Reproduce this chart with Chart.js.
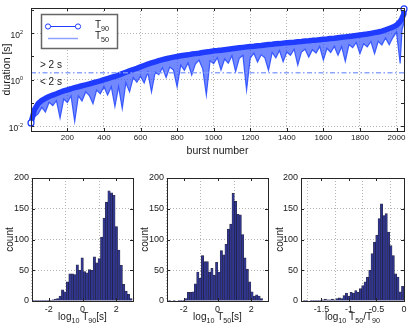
<!DOCTYPE html>
<html>
<head>
<meta charset="utf-8">
<script src="https://cdn.jsdelivr.net/npm/chart.js@4.4.1/dist/chart.umd.min.js"></script>
<style>
  html, body { margin: 0; padding: 0; background: #fff; }
  #wrap { position: relative; width: 412px; height: 330px; overflow: hidden; }
  canvas { position: absolute; }
</style>
</head>
<body>
<div id="wrap">
  <canvas id="top" width="412" height="165" style="left:0;top:0;width:412px;height:165px"></canvas>
  <canvas id="h90" width="140" height="165" style="left:0;top:165px;width:140px;height:165px"></canvas>
  <canvas id="h50" width="140" height="165" style="left:135px;top:165px;width:140px;height:165px"></canvas>
  <canvas id="hratio" width="142" height="165" style="left:270px;top:165px;width:142px;height:165px"></canvas>
</div>
<script>
// ---- top panel: bursts sorted by T90 (sampled every 20 bursts) ----
const burst = [1, 20, 40, 60, 80, 100, 120, 140, 160, 180,
  200, 220, 240, 260, 280, 300, 320, 340, 360, 380,
  400, 420, 440, 460, 480, 500, 520, 540, 560, 580,
  600, 620, 640, 660, 680, 700, 720, 740, 760, 780,
  800, 820, 840, 860, 880, 900, 920, 940, 960, 980,
  1000, 1020, 1040, 1060, 1080, 1100, 1120, 1140, 1160, 1180,
  1200, 1220, 1240, 1260, 1280, 1300, 1320, 1340, 1360, 1380,
  1400, 1420, 1440, 1460, 1480, 1500, 1520, 1540, 1560, 1580,
  1600, 1620, 1640, 1660, 1680, 1700, 1720, 1740, 1760, 1780,
  1800, 1820, 1840, 1860, 1880, 1900, 1920, 1940, 1960, 1980,
  2000, 2020, 2030, 2040, 2041];
const t90 = [0.014, 0.052, 0.095, 0.13, 0.16, 0.19, 0.22, 0.25, 0.29, 0.33,
  0.37, 0.41, 0.46, 0.50, 0.55, 0.60, 0.66, 0.74, 0.81, 0.89,
  1.0, 1.12, 1.26, 1.41, 1.58, 1.82, 2.09, 2.40, 2.75, 3.09,
  3.55, 4.07, 4.68, 5.25, 5.89, 6.61, 7.24, 7.94, 8.71, 9.33,
  10.0, 10.7, 11.2, 11.7, 12.6, 13.2, 13.8, 14.8, 15.5, 16.2,
  17.4, 17.8, 18.6, 19.5, 20.4, 21.4, 22.4, 23.4, 24.5, 25.7,
  26.9, 27.5, 28.8, 29.5, 30.9, 32.4, 33.1, 34.7, 35.5, 37.2,
  38.9, 39.8, 40.7, 42.7, 43.7, 45.7, 46.8, 49.0, 50.1, 52.5,
  55.0, 56.2, 58.9, 60.3, 63.1, 66.1, 69.2, 72.4, 75.9, 79.4,
  83.2, 87.1, 91.2, 97.7, 105, 112, 123, 138, 158, 182,
  219, 316, 437, 660, 1100];
const t50 = [0.010, 0.026, 0.034, 0.065, 0.041, 0.107, 0.078, 0.126, 0.023, 0.148,
  0.105, 0.204, 0.016, 0.20, 0.123, 0.30, 0.21, 0.093, 0.36, 0.25,
  0.50, 0.22, 0.50, 0.071, 0.50, 0.058, 0.74, 0.30, 1.23, 0.78,
  1.41, 0.72, 2.09, 0.30, 2.09, 1.66, 3.24, 1.26, 3.47, 2.63,
  0.50, 4.27, 2.51, 5.25, 1.58, 4.68, 6.92, 2.95, 0.22, 6.46,
  4.90, 8.91, 2.63, 7.76, 5.13, 10.7, 2.24, 8.32, 11.0, 0.36,
  8.51, 13.8, 5.75, 11.7, 8.71, 2.57, 14.8, 8.71, 17.8, 5.89,
  15.5, 11.2, 20.4, 4.27, 15.5, 20.4, 9.33, 19.5, 14.1, 26.3,
  6.92, 22.4, 14.8, 26.9, 11.2, 26.3, 6.17, 32.4, 24.0, 39.8,
  13.2, 34.7, 25.7, 43.7, 13.2, 44.7, 30.9, 61.7, 31.6, 64.6,
  110, 5.01, 138, 263, 550];
const splitAt = 2; // seconds, short/long divide
const burstTicks = [200, 400, 600, 800, 1000, 1200, 1400, 1600, 1800, 2000];
const durTicks = [0.01, 1, 100];
const durExp = ['-2', '0', '2'];
const durMinor = [0.1, 10, 1000];

// ---- histograms ----
const h90Bins = [-2.92, -2.775, -2.63, -2.485, -2.34, -2.195, -2.05, -1.905, -1.76, -1.615,
  -1.47, -1.325, -1.18, -1.035, -0.89, -0.745, -0.6, -0.455, -0.31, -0.165,
  -0.02, 0.125, 0.27, 0.415, 0.56, 0.705, 0.85, 0.995, 1.14, 1.285,
  1.43, 1.575, 1.72, 1.865, 2.01, 2.155, 2.3, 2.445, 2.59, 2.735, 2.88];
const h90Counts = [1, 1, 1, 1, 1, 1, 1, 1, 2, 3,
  4, 8, 18, 15, 31, 44, 44, 43, 59, 50,
  70, 48, 46, 51, 50, 72, 62, 69, 104, 135,
  161, 179, 176, 172, 121, 83, 58, 27, 16, 11, 4];

const h50Bins = [-2.85, -2.71, -2.57, -2.43, -2.29, -2.15, -2.01, -1.87, -1.73, -1.59,
  -1.45, -1.31, -1.17, -1.03, -0.89, -0.75, -0.61, -0.47, -0.33, -0.19,
  -0.05, 0.09, 0.23, 0.37, 0.51, 0.65, 0.79, 0.93, 1.07, 1.21,
  1.35, 1.49, 1.63, 1.77, 1.91, 2.05, 2.19, 2.33, 2.47, 2.61];
const h50Counts = [1, 0, 1, 0, 1, 1, 1, 4, 14, 14,
  15, 28, 47, 37, 74, 64, 64, 47, 53, 42,
  63, 47, 82, 75, 92, 117, 125, 175, 162, 141,
  140, 108, 70, 52, 31, 15, 8, 10, 8, 4];

const hRatioBins = [-1.81, -1.768, -1.725, -1.683, -1.64, -1.598, -1.555, -1.513, -1.47, -1.428,
  -1.385, -1.343, -1.3, -1.258, -1.215, -1.173, -1.13, -1.088, -1.045, -1.003,
  -0.96, -0.918, -0.875, -0.833, -0.79, -0.748, -0.705, -0.663, -0.62, -0.578,
  -0.535, -0.493, -0.45, -0.408, -0.365, -0.323, -0.28, -0.238, -0.195, -0.153,
  -0.11, -0.068, -0.025];
const hRatioCounts = [1, 1, 0, 1, 1, 1, 1, 1, 2, 3,
  2, 2, 3, 2, 4, 5, 4, 9, 13, 8,
  14, 13, 17, 14, 20, 25, 31, 39, 50, 77,
  96, 107, 134, 158, 139, 142, 112, 90, 74, 44,
  39, 15, 24];

const FONT = '"Liberation Sans", Arial, Helvetica, sans-serif';
const BLUE = '#1f3bff';
const GRID = '#b4b4b4';
Chart.defaults.font.family = FONT;
Chart.defaults.color = '#1a1a1a';

// draws text pieces, some of them as subscripts, centred on cx
function drawParts(ctx, parts, cx, y, size) {
  const small = size * 0.72;
  const widths = parts.map(p => {
    ctx.font = (p[1] ? small : size) + 'px ' + FONT;
    return ctx.measureText(p[0]).width;
  });
  let x = cx - widths.reduce((s, w) => s + w, 0) / 2;
  ctx.textAlign = 'left';
  ctx.textBaseline = 'alphabetic';
  parts.forEach((p, i) => {
    ctx.font = (p[1] ? small : size) + 'px ' + FONT;
    ctx.fillText(p[0], x, p[1] ? y + size * 0.32 : y);
    x += widths[i];
  });
}

// matlab-like box, inward ticks and axis titles
const framePlugin = {
  id: 'frame',
  afterDraw(chart, args, opts) {
    const { ctx, chartArea: a, scales } = chart;
    ctx.save();
    ctx.strokeStyle = '#262626';
    ctx.lineWidth = 1;
    const tl = 3;
    ctx.beginPath();
    scales.x.ticks.forEach(t => {
      const px = Math.round(scales.x.getPixelForValue(t.value)) + 0.5;
      ctx.moveTo(px, a.bottom); ctx.lineTo(px, a.bottom - tl);
      ctx.moveTo(px, a.top); ctx.lineTo(px, a.top + tl);
    });
    scales.y.ticks.map(t => t.value).concat(opts.minorY || []).forEach(v => {
      const py = Math.round(scales.y.getPixelForValue(v)) + 0.5;
      ctx.moveTo(a.left, py); ctx.lineTo(a.left + tl, py);
      ctx.moveTo(a.right, py); ctx.lineTo(a.right - tl, py);
    });
    ctx.stroke();
    ctx.strokeRect(Math.round(a.left) + 0.5, Math.round(a.top) + 0.5,
      Math.round(a.right - a.left), Math.round(a.bottom - a.top));

    ctx.fillStyle = '#1a1a1a';
    drawParts(ctx, opts.xTitle, (a.left + a.right) / 2, a.bottom + opts.xTitleGap, opts.titleSize);
    ctx.translate(opts.yTitleX, (a.top + a.bottom) / 2);
    ctx.rotate(-Math.PI / 2);
    ctx.font = opts.titleSize + 'px ' + FONT;
    ctx.textAlign = 'center';
    ctx.textBaseline = 'middle';
    ctx.fillText(opts.yTitle, 0, 0);
    ctx.restore();
  }
};

// legend box, 10^n tick labels and the > 2 s / < 2 s notes of the top panel
const topExtras = {
  id: 'topExtras',
  afterDraw(chart) {
    const { ctx, chartArea: a, scales } = chart;
    ctx.save();
    ctx.fillStyle = '#1a1a1a';
    ctx.textBaseline = 'alphabetic';
    durTicks.forEach((v, i) => {
      const py = scales.y.getPixelForValue(v);
      ctx.font = '5.5px ' + FONT;
      const ew = ctx.measureText(durExp[i]).width;
      ctx.textAlign = 'right';
      ctx.fillText(durExp[i], a.left - 8, py + 0.5);
      ctx.font = '8.5px ' + FONT;
      ctx.fillText('10', a.left - 8 - ew, py + 4.5);
    });

    const bx = a.left + 10, by = a.top + 6;
    ctx.fillStyle = '#fff';
    ctx.fillRect(bx, by, 76, 34);
    ctx.strokeStyle = '#666';
    ctx.lineWidth = 1.5;
    ctx.strokeRect(bx + 0.5, by + 0.5, 76, 34);

    ctx.strokeStyle = BLUE;
    ctx.lineWidth = 1;
    ctx.beginPath();
    ctx.moveTo(bx + 7, by + 12.5); ctx.lineTo(bx + 37, by + 12.5);
    ctx.stroke();
    [bx + 7, bx + 37].forEach(cx => {
      ctx.beginPath();
      ctx.arc(cx, by + 12.5, 2.6, 0, Math.PI * 2);
      ctx.fillStyle = '#fff';
      ctx.fill();
      ctx.stroke();
    });
    ctx.strokeStyle = '#8fa1ff';
    ctx.lineWidth = 1.5;
    ctx.beginPath();
    ctx.moveTo(bx + 7, by + 24.5); ctx.lineTo(bx + 37, by + 24.5);
    ctx.stroke();

    ctx.fillStyle = '#1a1a1a';
    drawParts(ctx, [['T', 0], ['90', 1]], bx + 61, by + 14, 10);
    drawParts(ctx, [['T', 0], ['50', 1]], bx + 61, by + 25, 10);

    const sx = scales.x.getPixelForValue(50);
    const sy = scales.y.getPixelForValue(splitAt);
    ctx.font = '10px ' + FONT;
    ctx.textAlign = 'left';
    ctx.textBaseline = 'middle';
    ctx.fillText('> 2 s', sx, sy - 7);
    ctx.fillText('< 2 s', sx, sy + 10);
    ctx.restore();
  }
};

const setTicks = vals => scale => { scale.ticks = vals.map(v => ({ value: v })); };
const lastIdx = burst.length - 1;

new Chart(document.getElementById('top'), {
  type: 'line',
  data: {
    datasets: [{
      label: 'T90',
      data: burst.map((b, i) => ({ x: b, y: t90[i] })),
      borderColor: BLUE,
      borderWidth: 5.5,
      borderJoinStyle: 'round',
      borderCapStyle: 'round',
      pointRadius: c => (c.dataIndex === 0 || c.dataIndex === lastIdx) ? 3 : 0,
      pointBorderWidth: 1.2,
      pointBorderColor: BLUE,
      pointBackgroundColor: '#fff',
      clip: false
    }, {
      label: 'T50',
      data: burst.map((b, i) => ({ x: b, y: t50[i] })),
      borderColor: 'rgba(35,70,255,0.85)',
      backgroundColor: 'rgba(40,75,255,0.66)',
      borderWidth: 1.2,
      pointRadius: 0,
      fill: '-1'
    }, {
      label: '2 s',
      data: [{ x: burst[0], y: splitAt }, { x: burst[lastIdx], y: splitAt }],
      borderColor: 'rgba(130,155,255,0.9)',
      borderWidth: 1.5,
      borderDash: [5, 2.5, 1.5, 2.5],
      pointRadius: 0,
      order: -1
    }]
  },
  options: {
    responsive: false,
    animation: false,
    events: [],
    layout: { padding: { left: 0, right: 8, top: 8, bottom: 0 } },
    plugins: {
      legend: { display: false },
      tooltip: { enabled: false },
      frame: {
        minorY: durMinor,
        xTitle: [['burst number', 0]], xTitleGap: 23, titleSize: 10.5,
        yTitle: 'duration [s]', yTitleX: 7
      }
    },
    scales: {
      x: {
        type: 'linear', min: 1, max: 2041, bounds: 'data',
        afterBuildTicks: setTicks(burstTicks),
        afterFit: s => { s.height = 34; },
        ticks: { callback: v => String(v), font: { size: 8 }, padding: 2, maxRotation: 0, autoSkip: false },
        grid: { color: GRID, drawTicks: false },
        border: { display: false, dash: [1, 2] }
      },
      y: {
        type: 'logarithmic', min: 0.0063, max: 1200, bounds: 'data',
        afterBuildTicks: setTicks(durTicks),
        afterFit: s => { s.width = 31; },
        ticks: { display: false },
        grid: { color: GRID, drawTicks: false },
        border: { display: false, dash: [1, 2] }
      }
    }
  },
  plugins: [framePlugin, topExtras]
});

function histogram(id, bins, counts, xmin, xmax, xTicks, xLabels, xTitle, yWidth, padRight) {
  new Chart(document.getElementById(id), {
    type: 'bar',
    data: {
      datasets: [{
        data: bins.map((b, i) => ({ x: b, y: counts[i] })),
        backgroundColor: '#2f3590',
        borderColor: 'rgba(10,10,35,0.85)',
        borderWidth: 0.6,
        barPercentage: 1,
        categoryPercentage: 1
      }]
    },
    options: {
      responsive: false,
      animation: false,
      events: [],
      layout: { padding: { left: 0, right: padRight, top: 13, bottom: 0 } },
      plugins: {
        legend: { display: false },
        tooltip: { enabled: false },
        frame: { xTitle, xTitleGap: 19, titleSize: 10, yTitle: 'count', yTitleX: 10 }
      },
      scales: {
        x: {
          type: 'linear', min: xmin, max: xmax, offset: false, bounds: 'data',
          afterBuildTicks: setTicks(xTicks),
          afterFit: s => { s.height = 29; },
          ticks: { callback: (v, i) => xLabels[i], font: { size: 9 }, padding: 3, maxRotation: 0, autoSkip: false },
          grid: { color: GRID, drawTicks: false },
          border: { display: false, dash: [1, 2] }
        },
        y: {
          min: 0, max: 200,
          afterBuildTicks: setTicks([0, 50, 100, 150, 200]),
          afterFit: s => { s.width = yWidth; },
          ticks: { font: { size: 9 }, padding: 3 },
          grid: { color: GRID, drawTicks: false },
          border: { display: false, dash: [1, 2] }
        }
      }
    },
    plugins: [framePlugin]
  });
}

histogram('h90', h90Bins, h90Counts, -3, 3, [-2, 0, 2], ['-2', '0', '2'],
  [['log', 0], ['10', 1], [' T', 0], ['90', 1], ['[s]', 0]], 32, 7);
histogram('h50', h50Bins, h50Counts, -3, 3, [-2, 0, 2], ['-2', '0', '2'],
  [['log', 0], ['10', 1], [' T', 0], ['50', 1], ['[s]', 0]], 32, 7);
histogram('hratio', hRatioBins, hRatioCounts, -1.87, 0, [-1.5, -1, -0.5, 0], ['-1.5', '-1', '-0.5', '0'],
  [['log', 0], ['10', 1], [' T', 0], ['50', 1], ['/T', 0], ['90', 1]], 31, 8);
</script>
</body>
</html>
